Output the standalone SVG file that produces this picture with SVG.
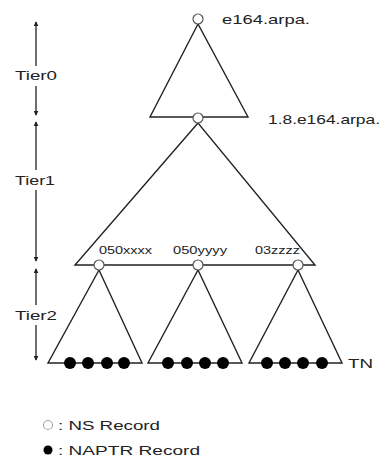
<svg xmlns="http://www.w3.org/2000/svg" width="384" height="458" viewBox="0 0 384 458">
<style>
.edge{fill:none;stroke:#222;stroke-width:1.4;stroke-linejoin:miter}
.ns{fill:#fff;stroke:#555;stroke-width:1.2}
.naptr{fill:#000}
.t{font-family:"Liberation Sans",Arial,sans-serif;fill:#222;font-size:13px}
.s{font-family:"Liberation Sans",Arial,sans-serif;fill:#222;font-size:10px}
.ax{stroke:#222;stroke-width:1.3;fill:none}
</style>
<defs>
<marker id="ah" viewBox="0 0 6 6" refX="5" refY="3" markerWidth="5" markerHeight="5" orient="auto-start-reverse" markerUnits="userSpaceOnUse">
<path d="M0,0 L6,3 L0,6 z" fill="#222"/>
</marker>
</defs>
<g id="connectors">
<path class="edge" d="M198,24 L150,117 L248,117 Z"/>
<path class="edge" d="M198,123 L75,265 L315,265 Z"/>
<path class="edge" d="M99,270 L48,363 L142,363 Z"/>
<path class="edge" d="M198,270 L148,363 L242,363 Z"/>
<path class="edge" d="M298,270 L249,363 L342,363 Z"/>
</g>
<g id="axis">
<line class="ax" x1="36" y1="66" x2="36" y2="22" marker-end="url(#ah)"/>
<line class="ax" x1="36" y1="86" x2="36" y2="115" marker-end="url(#ah)"/>
<line class="ax" x1="36" y1="170" x2="36" y2="122" marker-end="url(#ah)"/>
<line class="ax" x1="36" y1="190" x2="36" y2="261" marker-end="url(#ah)"/>
<line class="ax" x1="36" y1="305" x2="36" y2="269" marker-end="url(#ah)"/>
<line class="ax" x1="36" y1="325" x2="36" y2="360" marker-end="url(#ah)"/>
<text class="t" x="15" y="80" textLength="42" lengthAdjust="spacingAndGlyphs">Tier0</text>
<text class="t" x="15" y="185" textLength="40" lengthAdjust="spacingAndGlyphs">Tier1</text>
<text class="t" x="15" y="320" textLength="42" lengthAdjust="spacingAndGlyphs">Tier2</text>
</g>
<g id="node-e164">
<circle class="ns" cx="198" cy="19" r="5"/>
<text class="t" x="222" y="24" textLength="88" lengthAdjust="spacingAndGlyphs">e164.arpa.</text>
</g>
<g id="node-18e164">
<circle class="ns" cx="198" cy="118" r="5"/>
<text class="t" x="268" y="124" textLength="112" lengthAdjust="spacingAndGlyphs">1.8.e164.arpa.</text>
</g>
<g id="node-050xxxx">
<circle class="ns" cx="99" cy="265" r="5"/>
<text class="s" x="99" y="254" textLength="53" lengthAdjust="spacingAndGlyphs">050xxxx</text>
</g>
<g id="node-050yyyy">
<circle class="ns" cx="198" cy="265" r="5"/>
<text class="s" x="173" y="254" textLength="54" lengthAdjust="spacingAndGlyphs">050yyyy</text>
</g>
<g id="node-03zzzz">
<circle class="ns" cx="298" cy="265" r="5"/>
<text class="s" x="255" y="254" textLength="45" lengthAdjust="spacingAndGlyphs">03zzzz</text>
</g>
<g id="leaves">
<circle class="naptr" cx="70" cy="363" r="6"/>
<circle class="naptr" cx="88" cy="363" r="6"/>
<circle class="naptr" cx="107" cy="363" r="6"/>
<circle class="naptr" cx="124" cy="363" r="6"/>
<circle class="naptr" cx="168" cy="363" r="6"/>
<circle class="naptr" cx="187" cy="363" r="6"/>
<circle class="naptr" cx="205" cy="363" r="6"/>
<circle class="naptr" cx="223" cy="363" r="6"/>
<circle class="naptr" cx="267" cy="363" r="6"/>
<circle class="naptr" cx="285" cy="363" r="6"/>
<circle class="naptr" cx="303" cy="363" r="6"/>
<circle class="naptr" cx="322" cy="363" r="6"/>
<text class="t" x="348" y="368" textLength="25" lengthAdjust="spacingAndGlyphs">TN</text>
</g>
<g id="legend">
<circle cx="48" cy="425" r="4.5" fill="#fff" stroke="#aaa" stroke-width="1.2"/>
<text class="t" x="58" y="430" textLength="102" lengthAdjust="spacingAndGlyphs">: NS Record</text>
<circle cx="48" cy="450" r="4.5" fill="#000"/>
<text class="t" x="58" y="455" textLength="142" lengthAdjust="spacingAndGlyphs">: NAPTR Record</text>
</g>
</svg>
